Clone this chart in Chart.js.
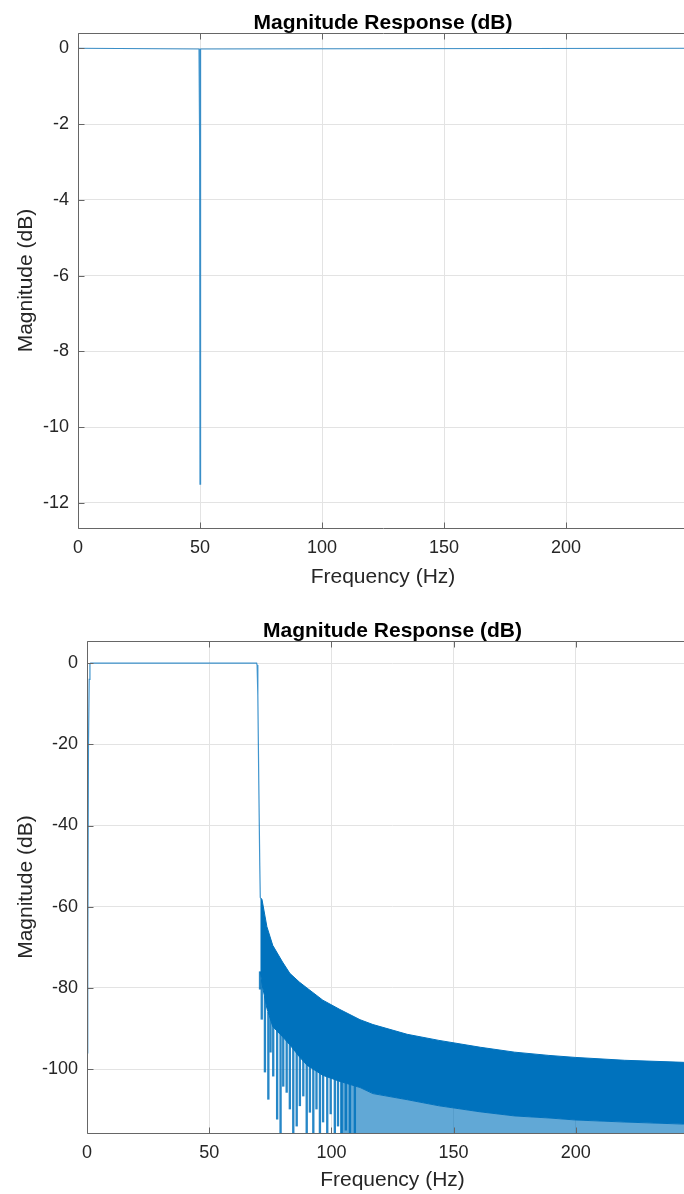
<!DOCTYPE html>
<html lang="en">

<head>
    <meta charset="UTF-8">
    <title>Magnitude Response (dB)</title>
    <style>
        html, body { margin: 0; padding: 0; background: #fff; }
        body { width: 684px; height: 1194px; overflow: hidden; position: relative; }
        .panel { position: absolute; left: 0; }
        #notchChart { top: 0; }
        #bandChart { top: 600px; }
    </style>
</head>

<body>
    <canvas id="notchChart" class="panel" width="700" height="600"></canvas>
    <canvas id="bandChart" class="panel" width="710" height="594"></canvas>

    <script src="https://cdn.jsdelivr.net/npm/chart.js"></script>
    <script>
        // --- top plot: notch at 50 Hz ---
        const notchHz = [0, 49.6, 49.8, 49.9, 50, 50.1, 50.2, 50.4, 250];
        const notchDb = [0, -0.02, -0.4, -2.5, -11.5, -2.5, -0.4, -0.02, 0];
        const notchYTicks = [-12, -10, -8, -6, -4, -2, 0];

        // --- bottom plot: band pass 0.5 .. 70 Hz ---
        const passHz = [0, 0.25, 0.35, 0.6, 0.9, 1.2, 1.5, 69.4, 69.6, 69.9, 70.3, 70.7, 70.9];
        const passDb = [-96, -52, -74, -20, -4, -0.3, 0, 0, -0.5, -8, -30, -50, -57.7];

        // stopband: upper envelope and lower edge of the dense part
        const bandHz = [70.9, 71.6, 73.6, 76, 80, 83, 87, 90, 96.5, 103.5, 111.7, 117, 131, 144, 161, 175, 189, 200, 220, 244, 250];
        const bandTop = [-57.7, -58.2, -64.9, -69.5, -73.6, -76.4, -78.6, -80, -83, -85.3, -87.8, -89, -91.4, -92.9, -94.6, -95.8, -96.6, -97.1, -97.8, -98.3, -98.4];
        const bandBottom = [-76, -79, -85, -89.5, -92, -94, -97, -99, -101.5, -103, -104.5, -106, -107.5, -109, -110.5, -111.5, -112, -112.5, -113, -113.5, -113.5];

        // single lobes that reach below the dense part
        const spikeHz = [70.8, 71.5, 72.8, 74.2, 75.1, 76.2, 77.8, 79.2, 80.3, 81.7, 83.0, 84.4, 85.8, 87.1, 88.5, 89.9, 91.2, 92.6, 93.9, 95.3, 96.6, 98.3, 99.7, 101.4, 102.7, 104.2, 105.9, 107.6, 109.6];
        const spikeTop = [-76, -78, -82, -86, -87, -88, -89.5, -90.5, -91, -92, -92.5, -93.5, -94.5, -95.5, -96.5, -97, -98, -98.5, -99, -99.5, -100, -100.5, -101, -101, -101.5, -101.5, -102, -102, -102.5];
        const spikeLow = [-80.3, -87.7, -100.7, -107.4, -95.8, -101.7, -112.3, -118, -104.2, -105.7, -109.8, -118, -114, -109, -106.6, -118, -110.6, -118, -109.8, -118, -113, -118, -111, -118, -114, -118, -115, -118, -118];
        const bandYTicks = [-100, -80, -60, -40, -20, 0];

        const xTicks = [0, 50, 100, 150, 200, 250];

        const BLUE = '#0072BD';
        const THIN = 'rgba(0, 114, 189, 0.75)';
        const AXIS = '#666666';
        const TEXT = '#262626';
        const FONT = "'Liberation Sans', Arial, Helvetica, sans-serif";

        const pts = (xs, ys) => xs.map((v, i) => ({ x: v, y: ys[i] }));

        // MATLAB style box with inward ticks
        const frame = {
            id: 'frame',
            afterDatasetsDraw(chart) {
                const { ctx, chartArea: a, scales: { x, y } } = chart;
                const L = Math.round(a.left) + 0.5, R = Math.round(a.right) + 0.5;
                const T = Math.round(a.top) + 0.5, B = Math.round(a.bottom) + 0.5;
                ctx.save();
                ctx.strokeStyle = AXIS;
                ctx.lineWidth = 1;
                ctx.beginPath();
                ctx.moveTo(R, T); ctx.lineTo(L, T); ctx.lineTo(L, B); ctx.lineTo(R, B);
                x.ticks.forEach(t => {
                    const px = Math.round(x.getPixelForValue(t.value)) + 0.5;
                    ctx.moveTo(px, B); ctx.lineTo(px, B - 6);
                    ctx.moveTo(px, T); ctx.lineTo(px, T + 6);
                });
                y.ticks.forEach(t => {
                    const py = Math.round(y.getPixelForValue(t.value)) + 0.5;
                    ctx.moveTo(L, py); ctx.lineTo(L + 6, py);
                });
                ctx.stroke();
                ctx.restore();
            }
        };

        function makeOptions(cfg) {
            return {
                responsive: false,
                animation: false,
                devicePixelRatio: 1,
                layout: { padding: { left: 0, right: 12, top: 0, bottom: 0 } },
                plugins: {
                    legend: { display: false },
                    tooltip: { enabled: false },
                    title: {
                        display: true,
                        fullSize: false,
                        text: 'Magnitude Response (dB)',
                        color: '#000',
                        font: { family: FONT, size: 21, weight: 'bold', lineHeight: 1.1 },
                        padding: { top: cfg.titleTop, bottom: -2 }
                    }
                },
                scales: {
                    x: {
                        type: 'linear',
                        min: 0,
                        max: 250,
                        offset: false,
                        afterBuildTicks: s => { s.ticks = xTicks.map(v => ({ value: v })); },
                        afterFit: s => { s.height = cfg.xHeight; },
                        grid: { color: '#e3e3e3', drawTicks: false, offset: false },
                        border: { display: false },
                        ticks: {
                            color: TEXT, padding: 9, maxRotation: 0,
                            font: { family: FONT, size: 18 },
                            callback: v => (v === 250 ? '' : v)
                        },
                        title: {
                            display: true, text: 'Frequency (Hz)', color: TEXT,
                            font: { family: FONT, size: 21 },
                            padding: { top: 0, bottom: cfg.xTitleBottom }
                        }
                    },
                    y: {
                        type: 'linear',
                        min: cfg.yMin,
                        max: cfg.yMax,
                        afterBuildTicks: s => { s.ticks = cfg.yTicks.map(v => ({ value: v })); },
                        afterFit: s => { s.width = cfg.yWidth; },
                        grid: { color: '#e3e3e3', drawTicks: false },
                        border: { display: false },
                        ticks: { color: TEXT, padding: 9, font: { family: FONT, size: 18 } },
                        title: {
                            display: true, text: 'Magnitude (dB)', color: TEXT,
                            font: { family: FONT, size: 21 },
                            padding: { top: 14, bottom: 0 }
                        }
                    }
                }
            };
        }

        new Chart(document.getElementById('notchChart'), {
            type: 'line',
            data: {
                datasets: [{
                    data: pts(notchHz, notchDb),
                    borderColor: THIN, borderWidth: 1.2,
                    pointRadius: 0, tension: 0, fill: false, clip: 0
                }]
            },
            options: makeOptions({
                yMin: -12.66, yMax: 0.4, yTicks: notchYTicks,
                yWidth: 78, xHeight: 72, titleTop: 12, xTitleBottom: 10
            }),
            plugins: [frame]
        });

        const zoneStart = bandHz.findIndex(f => f >= 103.5);

        new Chart(document.getElementById('bandChart'), {
            type: 'line',
            data: {
                datasets: [
                    {
                        data: pts(passHz, passDb),
                        borderColor: THIN, borderWidth: 1.2,
                        pointRadius: 0, tension: 0, fill: false, clip: 0
                    },
                    {
                        data: pts(bandHz, bandTop),
                        borderColor: BLUE, borderWidth: 1, backgroundColor: BLUE,
                        pointRadius: 0, tension: 0, fill: '+1', clip: 0
                    },
                    {
                        data: pts(bandHz, bandBottom),
                        borderColor: BLUE, borderWidth: 1,
                        pointRadius: 0, tension: 0, fill: false, clip: 0
                    },
                    {
                        data: pts(bandHz.slice(zoneStart), bandBottom.slice(zoneStart)),
                        borderWidth: 0, backgroundColor: 'rgba(0, 114, 189, 0.62)',
                        pointRadius: 0, tension: 0, fill: 'start', clip: 0
                    },
                    {
                        type: 'bar',
                        data: spikeHz.map((f, i) => ({ x: f, y: [spikeLow[i], spikeTop[i]] })),
                        backgroundColor: 'rgba(0, 114, 189, 0.85)',
                        borderWidth: 0, barThickness: 1.7, grouped: false, clip: 0
                    }
                ]
            },
            options: makeOptions({
                yMin: -115.7, yMax: 5.4, yTicks: bandYTicks,
                yWidth: 87, xHeight: 61, titleTop: 20, xTitleBottom: 1
            }),
            plugins: [frame]
        });
    </script>
</body>

</html>
